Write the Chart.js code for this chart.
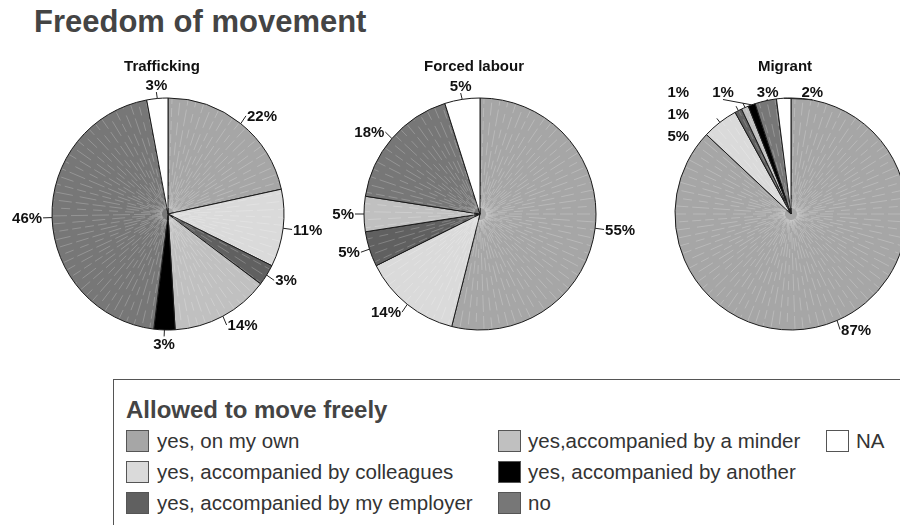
<!DOCTYPE html>
<html>
<head>
<meta charset="utf-8">
<title>Freedom of movement</title>
<script src="https://cdn.jsdelivr.net/npm/chart.js@4.4.1/dist/chart.umd.min.js"></script>
<style>
  html, body { margin: 0; padding: 0; background: #fff; }
  body {
    width: 900px; height: 525px; overflow: hidden; position: relative;
    font-family: "Liberation Sans", Arial, sans-serif;
  }
  #title {
    position: absolute; left: 34px; top: 4px; margin: 0;
    font-size: 31px; font-weight: bold; color: #444; line-height: 36px;
  }
  canvas.pie { position: absolute; }
  #legend {
    position: absolute; left: 113px; top: 379px; width: 900px; height: 200px;
    border: 1px solid #555;
  }
  #legend-title {
    position: absolute; left: 126px; top: 396px;
    font-size: 24px; font-weight: bold; color: #444; line-height: 28px; white-space: nowrap;
  }
  .item { position: absolute; height: 22px; white-space: nowrap; }
  .item .sw {
    position: absolute; left: 0; top: 0; width: 23px; height: 22px;
    box-sizing: border-box; border: 1px solid #555;
  }
  .item .tx {
    position: absolute; top: -1px; font-size: 20.5px; line-height: 24px; color: #333;
  }
</style>
</head>
<body>
<h1 id="title">Freedom of movement</h1>
<canvas id="pie0" class="pie" width="330" height="310"></canvas>
<canvas id="pie1" class="pie" width="330" height="310"></canvas>
<canvas id="pie2" class="pie" width="330" height="310"></canvas>
<div id="legend"></div>
<div id="legend-title">Allowed to move freely</div>

<script>
// answers, in the order the slices run clockwise from 12 o'clock
const categories = [
    "yes, on my own",
    "yes, accompanied by colleagues",
    "yes, accompanied by my employer",
    "yes,accompanied by a minder",
    "yes, accompanied by another",
    "no",
    "NA"
];
const groupTitles = ["Trafficking", "Forced labour", "Migrant"];
const traffickingPct = [22, 11, 3, 14, 3, 46, 3];
const forcedLabourPct = [55, 14, 5, 5, 0, 18, 5];
const migrantPct = [87, 5, 1, 1, 1, 3, 2];

const sliceColors = ["#a6a6a6", "#dadada", "#606060", "#c0c0c0", "#000000", "#777777", "#ffffff"];

const FONT = '"Liberation Sans", Arial, sans-serif';
const pieCenters = [168, 480, 791];   // page x of each pie centre
const pieCenterY = 214;
const canvasW = 330, canvasH = 310;

function overlaps(a, b) {
    return a.x0 < b.x0 + b.w + 8 && b.x0 < a.x0 + a.w + 8 && Math.abs(a.cy - b.cy) < a.h + 3;
}

// the faint radial streaks of the original rendering
const sliceStreaks = {
    id: "sliceStreaks",
    afterDatasetsDraw(chart) {
        const ctx = chart.ctx;
        const meta = chart.getDatasetMeta(0);
        ctx.save();
        ctx.lineWidth = 1;
        meta.data.forEach((arc, i) => {
            if (arc.endAngle - arc.startAngle < 0.01) return;
            if (sliceColors[i] === "#ffffff" || sliceColors[i] === "#000000") return;
            ctx.save();
            ctx.beginPath();
            ctx.moveTo(arc.x, arc.y);
            ctx.arc(arc.x, arc.y, arc.outerRadius - 1, arc.startAngle + 0.006, arc.endAngle - 0.006);
            ctx.closePath();
            ctx.clip();
            ctx.strokeStyle = "rgba(255,255,255,0.22)";
            const step = Math.PI / 45;
            let k = 0;
            for (let a = arc.startAngle + step / 2; a < arc.endAngle; a += step, k++) {
                ctx.setLineDash([9 + (k % 3) * 4, 4 + (k % 2) * 3]);
                ctx.lineDashOffset = (k * 7) % 13;
                ctx.beginPath();
                ctx.moveTo(arc.x + Math.cos(a) * 6, arc.y + Math.sin(a) * 6);
                ctx.lineTo(arc.x + Math.cos(a) * arc.outerRadius, arc.y + Math.sin(a) * arc.outerRadius);
                ctx.stroke();
            }
            ctx.restore();
        });
        ctx.restore();
    }
};

// percentage labels with short leader lines, plus the small title over each pie
const sliceLabels = {
    id: "sliceLabels",
    afterDatasetsDraw(chart, args, opts) {
        const ctx = chart.ctx;
        const meta = chart.getDatasetMeta(0);
        const values = chart.data.datasets[0].data;
        const first = meta.data[0];
        const cx = first.x, cy = first.y, r = first.outerRadius;
        ctx.save();
        ctx.font = "bold 15px " + FONT;
        ctx.fillStyle = "#111";
        ctx.textAlign = "center";
        ctx.textBaseline = "middle";
        ctx.fillText(opts.title, cx - 6, cy - 147);

        const placed = [];
        const column = [];   // crowded labels stacked on the upper left
        const h = 15;
        const topY = cy - r - 6;
        let rowEnd = null;   // right edge of the top row that grows out of the column

        meta.data.forEach((arc, i) => {
            const v = values[i];
            if (!v) return;
            const mid = (arc.startAngle + arc.endAngle) / 2;
            const dx = Math.cos(mid), dy = Math.sin(mid);
            const ax = cx + dx * (r + 10), ay = cy + dy * (r + 10);
            const text = v + "%";
            const w = ctx.measureText(text).width;
            const box = { w: w, h: h, side: 0, dx: dx, dy: dy, text: text };
            if (dx > 0.35) { box.x0 = ax; box.cy = ay; box.side = 1; }
            else if (dx < -0.35) { box.x0 = ax - w; box.cy = ay; box.side = -1; }
            else { box.x0 = ax - w / 2; box.cy = ay + dy * 4; }

            if (column.length && box.side === 0 && dy < 0 && dx < 0) {
                // continue along the top, next to the stacked column
                box.x0 = rowEnd + 23;
                box.cy = topY;
                rowEnd = box.x0 + w;
                placed.push(box);
                return;
            }

            let hits = placed.filter(p => overlaps(p, box));
            if (hits.length && box.side === -1 && dy < 0) {
                // newest label goes on top, the earlier ones slide down
                hits.forEach(p => { if (!column.includes(p)) column.push(p); });
                column.push(box);
                const n = column.length;
                column.forEach((p, k) => { p.cy = topY + 22 * (n - 1 - k); });
                let right = Infinity;
                column.forEach(p => {
                    const yy = p.cy - cy;
                    const half = Math.abs(yy) < r ? Math.sqrt(r * r - yy * yy) : 0;
                    right = Math.min(right, cx - half - 16);
                });
                column.forEach(p => { p.x0 = right - p.w; });
                rowEnd = right;
            } else {
                let guard = 0;
                while (hits.length && guard++ < 20) {
                    box.x0 = Math.max(...hits.map(p => p.x0 + p.w)) + 23;
                    box.cy = Math.max(box.cy, topY);
                    hits = placed.filter(p => overlaps(p, box));
                }
            }
            placed.push(box);
        });

        ctx.strokeStyle = "#222";
        ctx.lineWidth = 1;
        placed.forEach(box => {
            const sx = cx + box.dx * r, sy = cy + box.dy * r;
            let ex, ey;
            if (box.side === 1) { ex = box.x0 - 1; ey = box.cy; }
            else if (box.side === -1) { ex = box.x0 + box.w + 1; ey = box.cy; }
            else { ex = box.x0 + box.w / 2; ey = box.dy < 0 ? box.cy + h / 2 : box.cy - h / 2; }
            const len = Math.hypot(ex - sx, ey - sy);
            ctx.beginPath();
            if (len > 2 && len < 30) {
                ctx.moveTo(sx, sy);
                ctx.lineTo(ex, ey);
            } else if (len >= 30) {
                ctx.moveTo(sx, sy);
                ctx.lineTo(sx + box.dx * 5, sy + box.dy * 5);
            }
            ctx.stroke();
            ctx.fillText(box.text, box.x0 + box.w / 2, box.cy + 1);
        });
        ctx.restore();
    }
};

function drawPie(idx, values) {
    const canvas = document.getElementById("pie" + idx);
    canvas.style.left = (pieCenters[idx] - canvasW / 2) + "px";
    canvas.style.top = (pieCenterY - canvasH / 2) + "px";
    return new Chart(canvas.getContext("2d"), {
        type: "pie",
        data: {
            labels: categories,
            datasets: [{
                data: values,
                backgroundColor: sliceColors,
                borderColor: "#1a1a1a",
                borderWidth: 1,
                hoverOffset: 0
            }]
        },
        options: {
            responsive: false,
            animation: false,
            radius: 116,
            layout: { padding: 0 },
            plugins: {
                legend: { display: false },
                tooltip: { enabled: false },
                sliceLabels: { title: groupTitles[idx] }
            }
        },
        plugins: [sliceStreaks, sliceLabels]
    });
}

drawPie(0, traffickingPct);
drawPie(1, forcedLabourPct);
drawPie(2, migrantPct);

// legend, filled column by column
const colX = [126, 498, 826];
categories.forEach((name, i) => {
    const item = document.createElement("div");
    item.className = "item";
    item.style.left = colX[Math.floor(i / 3)] + "px";
    item.style.top = (430 + (i % 3) * 31) + "px";
    const sw = document.createElement("div");
    sw.className = "sw";
    sw.style.background = sliceColors[i];
    const tx = document.createElement("div");
    tx.className = "tx";
    tx.style.left = (i < 3 ? 31 : 30) + "px";
    tx.textContent = name;
    item.appendChild(sw);
    item.appendChild(tx);
    document.body.appendChild(item);
});
</script>
</body>
</html>
